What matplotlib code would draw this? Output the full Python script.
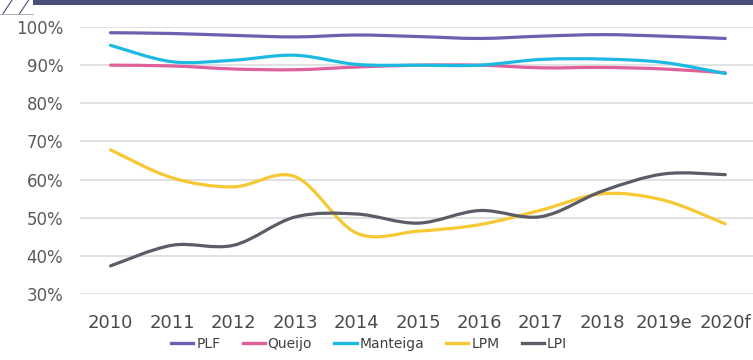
import numpy as np
import matplotlib
matplotlib.use("Agg")
import matplotlib.pyplot as plt
from matplotlib.path import Path
from matplotlib.patches import PathPatch, Rectangle
from matplotlib.lines import Line2D

# --- data ---
years = ["2010", "2011", "2012", "2013", "2014", "2015", "2016", "2017", "2018", "2019e", "2020f"]
plf = [98.5, 98.3, 97.8, 97.4, 97.9, 97.5, 97.0, 97.6, 98.0, 97.6, 97.0]
queijo = [90.0, 89.8, 89.0, 88.8, 89.5, 90.0, 90.0, 89.3, 89.4, 89.0, 88.0]
manteiga = [95.2, 90.9, 91.3, 92.6, 90.2, 90.0, 90.0, 91.5, 91.6, 90.7, 87.8]
lpm = [67.8, 60.5, 58.1, 60.8, 46.0, 46.5, 48.2, 52.0, 56.3, 54.6, 48.4]
lpi = [37.4, 42.8, 42.8, 50.2, 51.0, 48.6, 51.9, 50.3, 57.0, 61.5, 61.3]

series_names = ["PLF", "Queijo", "Manteiga", "LPM", "LPI"]
series_vals = [plf, queijo, manteiga, lpm, lpi]
colors = ["#6f5fb0", "#e0609c", "#1cb9e2", "#f6c833", "#5c5c68"]
yticks = [30, 40, 50, 60, 70, 80, 90, 100]


def smooth_path(xs, ys):
    # Excel-style smoothed line: cubic bezier through every point
    xs = np.asarray(xs, float)
    ys = np.asarray(ys, float)
    n = len(xs)
    verts = [(xs[0], ys[0])]
    codes = [Path.MOVETO]
    for i in range(n - 1):
        x0, y0 = (xs[i - 1], ys[i - 1]) if i > 0 else (xs[i], ys[i])
        x3, y3 = (xs[i + 2], ys[i + 2]) if i + 2 < n else (xs[i + 1], ys[i + 1])
        c1 = (xs[i] + (xs[i + 1] - x0) / 6, ys[i] + (ys[i + 1] - y0) / 6)
        c2 = (xs[i + 1] - (x3 - xs[i]) / 6, ys[i + 1] - (y3 - ys[i]) / 6)
        verts += [c1, c2, (xs[i + 1], ys[i + 1])]
        codes += [Path.CURVE4] * 3
    return Path(verts, codes)


fig = plt.figure(figsize=(7.53, 3.6), dpi=100)
ax = fig.add_axes([0.106, 0.183, 0.894, 0.742])

x = np.arange(len(years))
for vals, col in zip(series_vals, colors):
    ax.add_patch(PathPatch(smooth_path(x, vals), facecolor="none", edgecolor=col,
                           lw=2.3, capstyle="round", zorder=3))

ax.set_xlim(-0.5, 10.45)
ax.set_ylim(30, 100)
ax.set_yticks(yticks)
ax.set_yticklabels([f"{t}%" for t in yticks])
ax.set_xticks(x)
ax.set_xticklabels(years)
ax.grid(axis="y", color="#dcdcdc", lw=1.2, zorder=0)
ax.tick_params(length=0)
ax.tick_params(axis="y", labelsize=12, labelcolor="#5a5a5a", pad=12)
ax.tick_params(axis="x", labelsize=13, labelcolor="#4a4a4a", pad=14)
for s in ax.spines.values():
    s.set_visible(False)

# --- legend ---
handles = [Line2D([], [], color=c, lw=2.4) for c in colors]
fig.legend(handles, series_names, loc="lower center", bbox_to_anchor=(0.49, -0.01),
           ncol=5, frameon=False, handlelength=1.6, handletextpad=0.2, columnspacing=1.6,
           prop={"family": ["Liberation Sans Narrow", "DejaVu Sans"], "size": 10},
           labelcolor="#404040")

# --- header strip ---
fig.patches.append(Rectangle((0.044, 0.985), 0.956, 0.015, transform=fig.transFigure,
                             facecolor="#46507a", edgecolor="none"))
for x0 in (0.0, 0.022):
    fig.lines.append(Line2D([x0 + 0.004, x0 + 0.016], [0.962, 1.0], transform=fig.transFigure,
                            color="#46507a", lw=0.8))
fig.lines.append(Line2D([0.0, 0.044], [0.962, 0.962], transform=fig.transFigure,
                        color="#9aa0b8", lw=0.6))

fig.savefig("out.png", dpi=100)
